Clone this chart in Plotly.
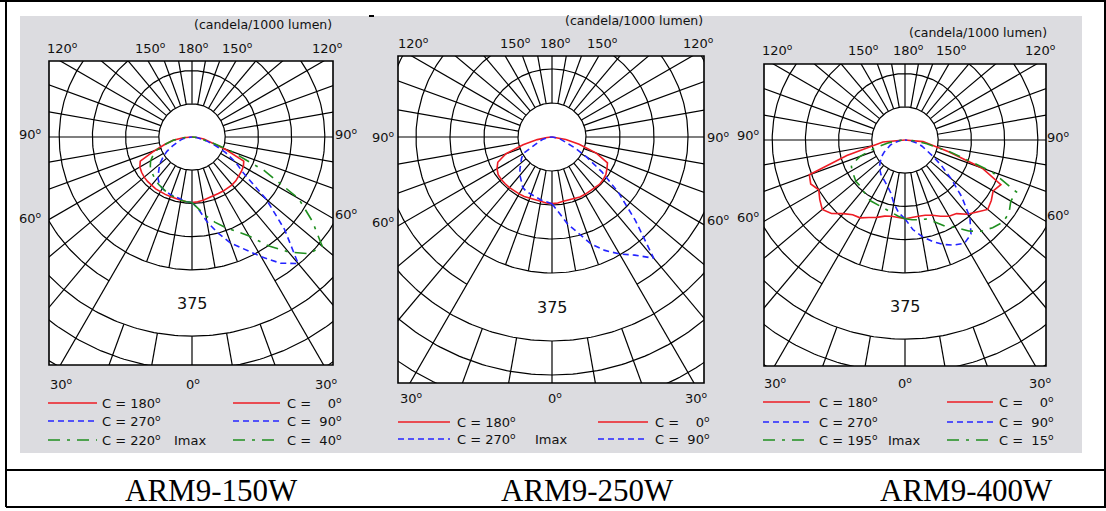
import numpy as np
import plotly.graph_objects as go

W, H = 1106, 511

# ---------------- photometric data (cd / 1000 lm) ----------------
# vertical angle gamma measured from nadir, 0..90 deg in 5 deg steps
GAMMA = list(range(0, 95, 5))

# ARM9-150W
arm150_c180 = [148, 147, 145, 144, 143, 143, 143, 143, 142, 142, 141, 139, 136, 129, 90, 63, 43, 20, 0]
arm150_c0 = [148, 147, 145, 143, 142, 141, 141, 141, 141, 140, 138, 136, 134, 129, 79, 45, 27, 11, 0]
arm150_c270 = [148, 147, 143, 141, 139, 137, 134, 129, 120, 106, 95, 80, 66, 49, 36, 27, 18, 9, 0]
arm150_c90 = [148, 163, 194, 224, 255, 280, 312, 348, 373, 296, 219, 142, 113, 84, 56, 34, 20, 9, 0]
arm150_c220 = [148, 147, 145, 142, 140, 137, 134, 131, 128, 124, 120, 115, 108, 97, 84, 61, 43, 20, 0]
arm150_c40 = [148, 163, 181, 199, 217, 235, 258, 300, 339, 373, 384, 332, 278, 181, 95, 43, 18, 7, 0]

# ARM9-250W
arm250_c180 = [147, 146, 144, 143, 144, 145, 145, 145, 146, 146, 146, 145, 140, 132, 108, 66, 33, 11, 0]
arm250_c0 = [147, 146, 144, 144, 144, 146, 146, 146, 147, 148, 147, 145, 140, 135, 104, 62, 31, 11, 0]
arm250_c270 = [147, 144, 141, 137, 135, 133, 129, 119, 110, 100, 91, 82, 73, 46, 31, 22, 13, 7, 0]
arm250_c90 = [147, 168, 194, 218, 251, 276, 298, 318, 349, 260, 192, 135, 88, 53, 33, 20, 11, 4, 0]

# ARM9-400W
arm400_c180 = [178, 176, 175, 178, 186, 193, 203, 206, 217, 235, 244, 235, 225, 235, 230, 136, 77, 50, 0]
arm400_c0 = [178, 175, 175, 176, 181, 190, 199, 203, 219, 230, 244, 238, 230, 239, 185, 102, 63, 41, 0]
arm400_c270 = [178, 165, 145, 124, 113, 106, 100, 95, 88, 81, 72, 64, 54, 45, 36, 29, 20, 11, 0]
arm400_c90 = [178, 203, 221, 237, 251, 262, 269, 260, 228, 181, 136, 100, 72, 54, 41, 29, 18, 9, 0]
arm400_c195 = [178, 173, 167, 163, 160, 159, 158, 152, 149, 145, 145, 141, 138, 134, 108, 70, 41, 20, 0]
arm400_c15 = [178, 181, 183, 185, 197, 215, 228, 251, 269, 280, 289, 287, 276, 278, 208, 108, 50, 20, 0]

# ---------------- text ----------------
MODELS = ["ARM9-150W", "ARM9-250W", "ARM9-400W"]
UNIT_TEXT = "(candela/1000 lumen)"
TOP_TICKS = ["120", "150", "180", "150", "120"]
SIDE_TICKS = ["90", "60"]
BOTTOM_TICKS = ["30", "0", "30"]
RING_STEP = 75
RING_LABEL = "375"

RED, BLUE, GREEN = "#ee1c24", "#2424ff", "#1f8f1f"
STYLE = {
    "solid": dict(color=RED, dash="solid"),
    "dash": dict(color=BLUE, dash="6px,4px"),
    "dashdot": dict(color=GREEN, dash="12px,7px,3px,7px"),
}

# each panel: series as (C-plane label, side, values, style)
PANELS = [
    dict(
        series=[("180", -1, arm150_c180, "solid"), ("0", 1, arm150_c0, "solid"),
                ("270", -1, arm150_c270, "dash"), ("90", 1, arm150_c90, "dash"),
                ("220", -1, arm150_c220, "dashdot"), ("40", 1, arm150_c40, "dashdot")],
        frame=(49, 61, 333, 365), center=(192, 137), ring_px=33.2,
        unit_xy=(263, 25),
        top_x=[62, 150, 193, 237, 327], top_y=48,
        side=dict(lx=30, rx=346, ly=[134, 218], ry=[134, 214]),
        bot_x=[61, 193, 326], bot_y=384,
        leg_rows=[403, 421, 440], leg_l=(48, 97, 100), leg_r=(233, 280, 285), imax_x=190,
        caption_x=211,
    ),
    dict(
        series=[("180", -1, arm250_c180, "solid"), ("0", 1, arm250_c0, "solid"),
                ("270", -1, arm250_c270, "dash"), ("90", 1, arm250_c90, "dash")],
        frame=(398, 56, 704, 383), center=(552, 137), ring_px=34.0,
        unit_xy=(634, 21),
        top_x=[413, 515, 555, 602, 698], top_y=43,
        side=dict(lx=383, rx=718, ly=[137, 222], ry=[137, 220]),
        bot_x=[411, 555, 696], bot_y=398,
        leg_rows=[422, 439], leg_l=(398, 450, 455), leg_r=(598, 648, 653), imax_x=551,
        caption_x=588,
    ),
    dict(
        series=[("180", -1, arm400_c180, "solid"), ("0", 1, arm400_c0, "solid"),
                ("270", -1, arm400_c270, "dash"), ("90", 1, arm400_c90, "dash"),
                ("195", -1, arm400_c195, "dashdot"), ("15", 1, arm400_c15, "dashdot")],
        frame=(764, 64, 1046, 366), center=(905, 140), ring_px=33.2,
        unit_xy=(978, 32),
        top_x=[777, 863, 908, 951, 1040], top_y=50,
        side=dict(lx=748, rx=1058, ly=[135, 217], ry=[137, 215]),
        bot_x=[776, 905, 1040], bot_y=383,
        leg_rows=[402, 422, 440], leg_l=(763, 810, 817), leg_r=(947, 993, 997), imax_x=904,
        caption_x=966,
    ),
]

GRAY = "#dcdce0"
TXT = "#111111"
FONT = "DejaVu Sans"
FS = 13


def fx(x):
    return x / W


def fy(y):
    return 1 - y / H


def deg(t):
    return t + "<sup>o</sup>"


def grid_lines(n_rings=10, label_ring=5, window=30):
    """Polar grid: rings every RING_STEP, spokes every 10 deg, open band around the scale label."""
    xs, ys = [], []
    t_full = np.radians(np.arange(0, 360.5, 1.0))
    for k in range(1, n_rings + 1):
        r = k * RING_STEP
        if k == label_ring:
            t = np.radians(np.arange(window, 360 - window + 0.5, 1.0))
        else:
            t = t_full
        xs += list(r * np.sin(t)) + [None]
        ys += list(-r * np.cos(t)) + [None]
    r_in, r_out = RING_STEP, (n_rings + 2) * RING_STEP
    for a in range(0, 360, 10):
        s, c = np.sin(np.radians(a)), -np.cos(np.radians(a))
        if a < window or a > 360 - window:
            spans = [(r_in, (label_ring - 1) * RING_STEP), ((label_ring + 1) * RING_STEP, r_out)]
        else:
            spans = [(r_in, r_out)]
        for r0, r1 in spans:
            xs += [r0 * s, r1 * s, None]
            ys += [r0 * c, r1 * c, None]
    return xs, ys


fig = go.Figure()
shapes, annotations = [], []

# light gray background behind the three diagrams
shapes.append(dict(type="rect", xref="paper", yref="paper", x0=fx(20), x1=fx(1082), y0=fy(453), y1=fy(16),
                   fillcolor=GRAY, line=dict(width=0), layer="below"))

gx, gy = grid_lines()
g = np.radians(GAMMA)

for i, p in enumerate(PANELS, start=1):
    L, T, R, B = p["frame"]
    cx, cy = p["center"]
    u = RING_STEP / p["ring_px"]  # data units per pixel
    xa, ya = ("x" if i == 1 else f"x{i}"), ("y" if i == 1 else f"y{i}")
    fig.update_layout(**{
        ("xaxis" if i == 1 else f"xaxis{i}"): dict(domain=[fx(L), fx(R)], range=[(L - cx) * u, (R - cx) * u],
                                                   visible=False, anchor=ya, fixedrange=True),
        ("yaxis" if i == 1 else f"yaxis{i}"): dict(domain=[fy(B), fy(T)], range=[(cy - B) * u, (cy - T) * u],
                                                   visible=False, anchor=xa, fixedrange=True),
    })
    # white diagram area
    shapes.append(dict(type="rect", xref="paper", yref="paper", x0=fx(L), x1=fx(R), y0=fy(B), y1=fy(T),
                       fillcolor="white", line=dict(width=0), layer="below"))
    # grid
    fig.add_trace(go.Scatter(x=gx, y=gy, mode="lines", line=dict(color="black", width=1.2),
                             hoverinfo="skip", showlegend=False, xaxis=xa, yaxis=ya))
    # intensity curves
    for cplane, side, vals, sty in p["series"]:
        v = np.array(vals, dtype=float)
        fig.add_trace(go.Scatter(x=side * v * np.sin(g), y=-v * np.cos(g), mode="lines",
                                 line=dict(color=STYLE[sty]["color"], dash=STYLE[sty]["dash"], width=1.6),
                                 name=f"C = {cplane}", showlegend=False, hoverinfo="skip",
                                 xaxis=xa, yaxis=ya))
    # frame
    shapes.append(dict(type="rect", xref="paper", yref="paper", x0=fx(L), x1=fx(R), y0=fy(B), y1=fy(T),
                       line=dict(color="black", width=1.6), layer="above"))
    # scale label
    annotations.append(dict(x=0, y=-5 * RING_STEP, xref=xa, yref=ya, text=RING_LABEL, showarrow=False,
                            font=dict(family=FONT, size=16, color=TXT)))

    def lab(x, y, text, size=FS, xanchor="center"):
        annotations.append(dict(x=fx(x), y=fy(y), xref="paper", yref="paper", text=text, showarrow=False,
                                xanchor=xanchor, yanchor="middle", font=dict(family=FONT, size=size, color=TXT)))

    lab(p["unit_xy"][0], p["unit_xy"][1], UNIT_TEXT, size=12.5)
    for x, t in zip(p["top_x"], TOP_TICKS):
        lab(x, p["top_y"], deg(t))
    for y, t in zip(p["side"]["ly"], SIDE_TICKS):
        lab(p["side"]["lx"], y, deg(t))
    for y, t in zip(p["side"]["ry"], SIDE_TICKS):
        lab(p["side"]["rx"], y, deg(t))
    for x, t in zip(p["bot_x"], BOTTOM_TICKS):
        lab(x, p["bot_y"], deg(t))

    # legend: left column (C 180..360 planes) and right column (C 0..180 planes)
    left = [s for s in p["series"] if s[1] < 0]
    right = [s for s in p["series"] if s[1] > 0]
    for row_y, (cpl, _, _, sty) in zip(p["leg_rows"], left):
        x0, x1, tx = p["leg_l"]
        shapes.append(dict(type="line", xref="paper", yref="paper", x0=fx(x0), x1=fx(x1), y0=fy(row_y),
                           y1=fy(row_y), line=dict(color=STYLE[sty]["color"], dash=STYLE[sty]["dash"], width=1.6)))
        lab(tx, row_y, "C = " + deg(cpl), xanchor="left")
    for row_y, (cpl, _, _, sty) in zip(p["leg_rows"], right):
        x0, x1, tx = p["leg_r"]
        shapes.append(dict(type="line", xref="paper", yref="paper", x0=fx(x0), x1=fx(x1), y0=fy(row_y),
                           y1=fy(row_y), line=dict(color=STYLE[sty]["color"], dash=STYLE[sty]["dash"], width=1.6)))
        pad = "\u2007" * (2 - len(cpl)) if len(cpl) < 3 else ""
        lab(tx, row_y, "C =\u00a0\u00a0" + pad + deg(cpl), xanchor="left")
    lab(p["imax_x"], p["leg_rows"][-1], "Imax")

    # model caption
    annotations.append(dict(x=fx(p["caption_x"]), y=fy(490), xref="paper", yref="paper", text=MODELS[i - 1],
                            showarrow=False, xanchor="center", yanchor="middle",
                            font=dict(family="Liberation Serif", size=31, color="black")))

# table rules
for x0, y0, x1, y1 in [(0, 1, W, 1), (6, 0, 6, 507), (6, 470, W, 470), (6, 507, W, 507), (1105, 0, 1105, 507)]:
    shapes.append(dict(type="line", xref="paper", yref="paper", x0=fx(x0), x1=fx(x1), y0=fy(y0), y1=fy(y1),
                       line=dict(color="black", width=2), layer="above"))
# small mark at the top edge of the middle diagram
shapes.append(dict(type="line", xref="paper", yref="paper", x0=fx(369), x1=fx(374), y0=fy(16), y1=fy(16),
                   line=dict(color="black", width=2), layer="above"))

fig.update_layout(width=W, height=H, margin=dict(l=0, r=0, t=0, b=0), paper_bgcolor="white",
                  plot_bgcolor="rgba(0,0,0,0)", showlegend=False, shapes=shapes, annotations=annotations)
fig.write_html("out.html")
